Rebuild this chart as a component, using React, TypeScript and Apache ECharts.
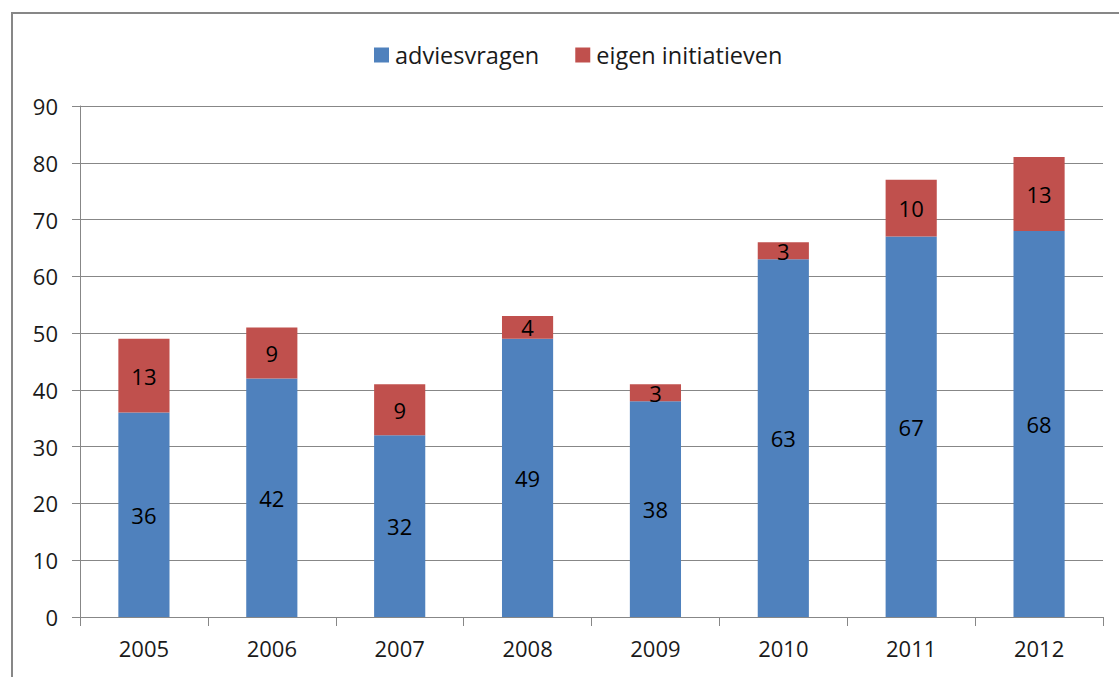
import React, { useEffect, useRef } from "react";
import * as echarts from "echarts";

const years = ["2005", "2006", "2007", "2008", "2009", "2010", "2011", "2012"];
const adviesvragen = [36, 42, 32, 49, 38, 63, 67, 68];
const eigenInitiatieven = [13, 9, 9, 4, 3, 3, 10, 13];
const seriesNames = ["adviesvragen", "eigen initiatieven"];

const FONT = "'Open Sans', 'Liberation Sans', sans-serif";

export default function App() {
  const ref = useRef<HTMLDivElement>(null);
  useEffect(() => {
    if (!ref.current) return;
    const chart = echarts.init(ref.current, undefined, { renderer: "svg" });
    const labelStyle = {
      show: true,
      position: "inside" as const,
      color: "#000",
      fontSize: 22,
      fontFamily: FONT,
    };
    chart.setOption({
      animation: false,
      backgroundColor: "#fff",
      textStyle: { fontFamily: FONT },
      graphic: [
        {
          type: "rect",
          shape: { x: 12, y: 13, width: 1200, height: 800 },
          style: { fill: "none", stroke: "#878787", lineWidth: 2 },
          silent: true,
        },
      ],
      legend: {
        data: seriesNames,
        top: 38,
        left: 369,
        itemWidth: 15,
        itemHeight: 15,
        itemGap: 36,
        icon: "rect",
        textStyle: { fontSize: 23.5, color: "#1a1a1a", fontFamily: FONT, padding: [0, 0, 0, 1] },
      },
      grid: { left: 80, right: 16, top: 106, bottom: 60, containLabel: false },
      xAxis: {
        type: "category",
        data: years,
        axisLine: { show: true, lineStyle: { color: "#878787", width: 1 } },
        axisTick: { show: true, length: 9, alignWithLabel: false, lineStyle: { color: "#878787" } },
        axisLabel: { fontSize: 22, color: "#1a1a1a", margin: 20, fontFamily: FONT },
      },
      yAxis: {
        type: "value",
        min: 0,
        max: 90,
        interval: 10,
        axisLine: { show: true, lineStyle: { color: "#878787", width: 1 } },
        axisTick: { show: true, length: 8, lineStyle: { color: "#878787" } },
        axisLabel: { fontSize: 22, color: "#1a1a1a", margin: 22, fontFamily: FONT },
        splitLine: { show: true, lineStyle: { color: "#878787", width: 1 } },
      },
      series: [
        {
          name: seriesNames[0],
          type: "bar",
          stack: "total",
          data: adviesvragen,
          barWidth: "40%",
          itemStyle: { color: "#4F81BD" },
          label: labelStyle,
        },
        {
          name: seriesNames[1],
          type: "bar",
          stack: "total",
          data: eigenInitiatieven,
          barWidth: "40%",
          itemStyle: { color: "#C0504D" },
          label: labelStyle,
        },
      ],
    });
    return () => chart.dispose();
  }, []);
  return (
    <div
      ref={ref}
      style={{ position: "absolute", left: 0, top: 0, width: 1119, height: 677 }}
    />
  );
}
